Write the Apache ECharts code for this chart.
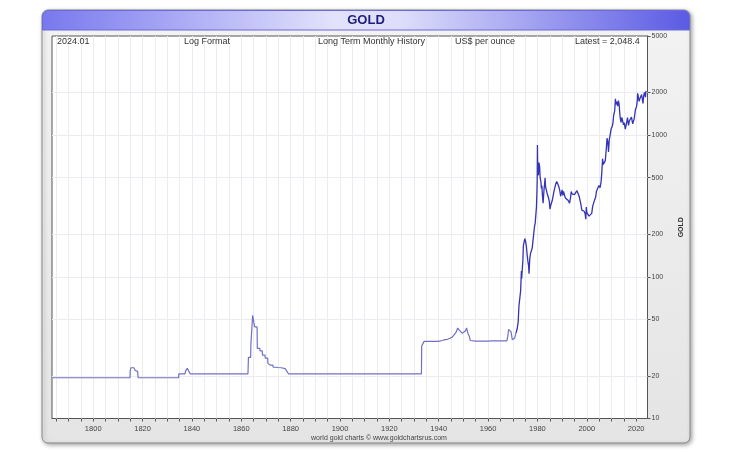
<!DOCTYPE html>
<html><head><meta charset="utf-8">
<script src="https://cdn.jsdelivr.net/npm/echarts@6/dist/echarts.min.js"></script>
<style>html,body{margin:0;padding:0;background:#fff}#c{width:729px;height:452px}</style>
</head><body><div id="c"></div>
<script>
// ---- data: [decimal year, US$ per ounce] ----
const gold1783_1932 = [
  [1783.5,19.39],[1814.9,19.39],[1815.0,21.8],[1815.3,22.8],[1816.5,22.8],[1817.0,21.8],[1818.0,21.5],[1818.2,19.39],
  [1834.6,19.39],[1834.7,20.67],[1837.2,20.67],[1837.4,21.6],[1838.1,22.6],[1838.7,22.2],[1839.3,20.67],
  [1862.7,20.67],[1862.9,27],[1863.8,27],[1863.9,33.5],[1864.5,33.5],[1864.6,53.5],[1865.0,52],[1865.4,44.3],[1866.4,44.3],
  [1866.5,31.2],[1867.5,31.2],[1867.6,30],[1868.5,30],[1868.6,28],[1869.6,28],[1869.7,26.7],[1870.7,26.7],[1870.8,24.5],
  [1871.6,24.5],[1871.7,23.8],[1872.8,23.8],[1872.9,23],[1873.8,23],[1874.2,23.6],[1874.8,22.9],[1875.5,23.5],[1876.2,22.8],
  [1877.0,23.2],[1877.8,22.5],[1878.6,21.8],[1879.1,20.67],[1933.0,20.67]
];
const gold1933_1971 = [
  [1933.1,32.5],[1933.9,33.5],[1934.1,35],[1939.8,35],[1940.5,34.6],[1941.5,35.5],[1942.5,36],[1943.5,36.2],[1944.5,36.8],
  [1945.5,37.5],[1946.3,38.5],[1947.0,40.5],[1947.7,43.5],[1948.3,42],[1948.9,43],[1949.5,40],[1950.2,39.5],[1950.8,41.5],
  [1951.3,43.5],[1951.8,40],[1952.4,38],[1952.8,35.5],[1955.0,35.2],[1959.8,35.2],[1960.2,36.3],[1960.6,35.5],[1961.5,35.3],
  [1967.6,35.3],[1968.0,38],[1968.3,42.5],[1968.8,43],[1969.3,41],[1969.8,36],[1970.2,35.3],[1970.8,37],[1971.3,40]
];
const gold1971_1999 = [
  [1971.8,43],[1972.2,48],[1972.5,62],[1972.9,64],[1973.2,80],[1973.5,110],[1973.6,97],[1973.9,100],[1974.1,130],[1974.3,165],
  [1974.6,176],[1974.9,186],[1975.2,178],[1975.5,165],[1975.8,145],[1976.1,130],[1976.4,120],[1976.6,105],[1976.9,135],
  [1977.2,146],[1977.6,144],[1977.9,160],[1978.2,180],[1978.5,185],[1978.8,225],[1979.1,240],[1979.4,280],[1979.6,310],
  [1979.8,400],[1979.9,480],[1980.0,850],[1980.08,670],[1980.2,550],[1980.4,520],[1980.6,640],[1980.75,660],[1980.9,600],
  [1981.1,500],[1981.4,470],[1981.6,420],[1981.8,440],[1982.0,380],[1982.3,330],[1982.5,320],[1982.7,420],[1982.9,450],
  [1983.1,500],[1983.3,430],[1983.6,410],[1983.9,390],[1984.2,390],[1984.5,360],[1984.8,340],[1985.1,300],[1985.4,320],
  [1985.7,330],[1986.0,345],[1986.4,340],[1986.7,400],[1987.0,405],[1987.4,450],[1987.8,470],[1988.0,460],[1988.3,450],
  [1988.7,430],[1989.0,410],[1989.4,370],[1989.7,365],[1990.0,410],[1990.3,375],[1990.6,400],[1990.9,380],[1991.3,360],
  [1991.7,355],[1992.0,355],[1992.5,345],[1993.0,330],[1993.4,360],[1993.7,400],[1994.0,385],[1994.5,385],[1995.0,380],
  [1995.5,385],[1996.0,405],[1996.5,385],[1996.9,370],[1997.2,350],[1997.6,325],[1998.0,295],[1998.5,295],[1998.9,290],
  [1999.3,280],[1999.6,255],[1999.8,310]
];
const gold2000_2024 = [
  [2000.0,285],[2000.5,285],[2000.9,268],[2001.3,260],[2001.7,275],[2002.0,280],[2002.4,315],[2002.8,320],[2003.2,350],
  [2003.6,365],[2003.9,400],[2004.3,395],[2004.7,410],[2004.9,440],[2005.4,425],[2005.8,470],[2006.1,550],[2006.4,680],
  [2006.7,620],[2007.0,630],[2007.5,660],[2007.9,800],[2008.2,950],[2008.5,900],[2008.8,760],[2009.1,920],[2009.5,950],
  [2009.9,1110],[2010.3,1150],[2010.6,1220],[2010.9,1380],[2011.3,1480],[2011.6,1800],[2011.8,1650],[2012.1,1720],
  [2012.5,1600],[2012.8,1750],[2013.1,1650],[2013.4,1400],[2013.6,1300],[2013.9,1230],[2014.2,1330],[2014.5,1310],
  [2014.9,1180],[2015.2,1220],[2015.6,1100],[2015.9,1065],[2016.2,1240],[2016.5,1330],[2016.9,1170],[2017.2,1250],
  [2017.6,1260],[2017.9,1280],[2018.1,1340],[2018.6,1200],[2018.9,1230],[2019.2,1300],[2019.5,1420],[2019.7,1510],
  [2019.9,1480],[2020.2,1600],[2020.5,1780],[2020.6,1970],[2020.9,1860],[2021.2,1730],[2021.5,1800],[2021.8,1780],
  [2022.2,1930],[2022.5,1800],[2022.75,1670],[2022.9,1780],[2023.1,1900],[2023.35,2000],[2023.6,1930],[2023.8,1850],
  [2023.9,2000],[2024.04,2048.4]
];
// ---- axis ticks / labels ----
const xTickYears = [1785,1790,1795,1800,1805,1810,1815,1820,1825,1830,1835,1840,1845,1850,1855,1860,1865,1870,1875,1880,
  1885,1890,1895,1900,1905,1910,1915,1920,1925,1930,1935,1940,1945,1950,1955,1960,1965,1970,1975,1980,1985,1990,1995,2000,
  2005,2010,2015,2020];
const xLabelYears = [1800,1820,1840,1860,1880,1900,1920,1940,1960,1980,2000,2020];
const yTickValues = [10,20,50,100,200,500,1000,2000,5000];
const titleText = 'GOLD';
const headerTexts = ['2024.01','Log Format','Long Term Monthly History','US$ per ounce','Latest = 2,048.4'];
const captionText = 'world gold charts \u00a9 www.goldchartsrus.com';

const olderData = gold1783_1932.concat(gold1933_1971);
const modernData = [olderData[olderData.length - 1]].concat(gold1971_1999, gold2000_2024);
const FONT = '"Liberation Sans", Arial, sans-serif';
const headerX = [57, 184, 318, 455, 575];

const chart = echarts.init(document.getElementById('c'), null, {renderer: 'canvas'});
chart.setOption({
  animation: false,
  backgroundColor: '#ffffff',
  textStyle: {fontFamily: FONT},
  grid: {left: 52, right: 81.5, top: 36, bottom: 33.5, show: true, backgroundColor: '#ffffff', borderColor: '#555555', borderWidth: 1, z: 1},
  xAxis: {
    type: 'value', min: 1783.3, max: 2024.6,
    axisLine: {show: true, lineStyle: {color: '#555555', width: 1}},
    axisTick: {show: true, length: 3, customValues: xTickYears, lineStyle: {color: '#555555'}},
    axisLabel: {show: true, customValues: xLabelYears, formatter: v => String(v), fontSize: 7.5, color: '#444444', margin: 6, fontFamily: FONT, showMinLabel: true, showMaxLabel: true},
    splitLine: {show: false}
  },
  yAxis: {
    type: 'log', logBase: 10, min: 10, max: 5000, position: 'right',
    name: 'GOLD', nameLocation: 'middle', nameRotate: 90, nameGap: 29,
    nameTextStyle: {fontSize: 7, fontWeight: 'bold', color: '#333333', fontFamily: FONT},
    axisLine: {show: true, lineStyle: {color: '#555555', width: 1}},
    axisTick: {show: true, length: 3, customValues: yTickValues, lineStyle: {color: '#555555'}},
    axisLabel: {show: true, customValues: yTickValues, formatter: v => String(v), fontSize: 7, color: '#444444', margin: 4, fontFamily: FONT, showMinLabel: true, showMaxLabel: true},
    splitLine: {show: false}
  },
  series: [
    {
      name: 'GOLD 1783-1971', type: 'line', data: olderData, showSymbol: false, symbol: 'none',
      lineStyle: {width: 1.2, color: '#7070c4'}, itemStyle: {color: '#7070c4'}, z: 5
    },
    {
      name: 'GOLD 1971-2024', type: 'line', data: modernData, showSymbol: false, symbol: 'none',
      lineStyle: {width: 1.3, color: '#3434b6'}, itemStyle: {color: '#3434b6'}, z: 6
    },
    {
      type: 'line', data: [], z: 2, silent: true,
      markLine: {
        symbol: 'none', silent: true, animation: false,
        label: {show: false},
        lineStyle: {color: '#ececf0', width: 1, type: 'solid'},
        data: xTickYears.map(v => ({xAxis: v})).concat(yTickValues.slice(1, -1).map(v => ({yAxis: v})))
      }
    }
  ],
  graphic: [
    {type: 'rect', z: -100, shape: {x: 42, y: 10, width: 648, height: 433, r: 6},
      style: {fill: new echarts.graphic.LinearGradient(0, 0, 0, 1, [{offset: 0, color: '#f3f3f3'}, {offset: 1, color: '#e4e4e4'}]),
        stroke: '#8a8a8a', lineWidth: 1, shadowBlur: 4, shadowColor: 'rgba(0,0,0,0.35)', shadowOffsetX: 1.5, shadowOffsetY: 1.5}},
    {type: 'rect', z: -90, shape: {x: 42.5, y: 10.5, width: 647, height: 19.5, r: [6, 6, 0, 0]},
      style: {fill: new echarts.graphic.LinearGradient(0, 0, 1, 0, [{offset: 0, color: '#7878ee'}, {offset: 0.45, color: '#e2e2fc'}, {offset: 0.55, color: '#dedefb'}, {offset: 1, color: '#5a5ae4'}]),
        stroke: '#6a6ad8', lineWidth: 1}},
    {type: 'text', z: 100, style: {x: 366, y: 20.5, text: titleText, align: 'center', verticalAlign: 'middle', font: 'bold 13px ' + FONT, fill: '#1e1e78'}},
    ...headerTexts.map((t, i) => ({type: 'text', z: 100, style: {x: headerX[i], y: 42, text: t, align: 'left', verticalAlign: 'middle', font: '9px ' + FONT, fill: '#333333'}})),
    {type: 'text', z: 100, style: {x: 379, y: 438, text: captionText, align: 'center', verticalAlign: 'middle', font: '7px ' + FONT, fill: '#444444'}}
  ]
});
</script></body></html>
